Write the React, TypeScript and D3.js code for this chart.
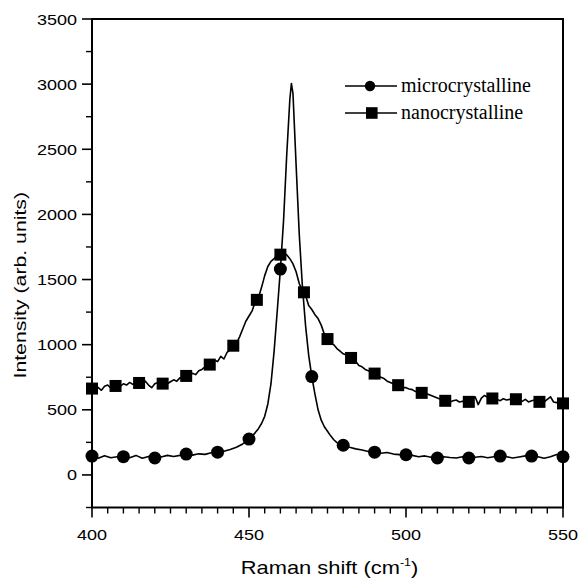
import React from "react";
import * as d3 from "d3";

// ---- data ----
const microShift = [
  400, 402, 404, 406, 408, 410, 412, 414, 416, 418, 420, 422, 424, 426, 428, 430, 432, 434, 436, 438,
  440, 442, 444, 446, 448, 449, 450, 451, 452, 453, 454, 455, 456, 457, 458, 459, 460, 461, 462, 463,
  463.5, 464, 465, 466, 467, 468, 469, 470, 471, 472, 473, 474, 475, 476, 477, 478, 479, 480, 482, 484,
  486, 488, 490, 492, 494, 496, 498, 500, 502, 504, 506, 508, 510, 512, 514, 516, 518, 520, 522, 524,
  526, 528, 530, 532, 534, 536, 538, 540, 542, 544, 546, 548, 550,
];
const microIntensity = [
  150, 128, 148, 132, 140, 140, 132, 150, 128, 142, 132, 138, 150, 142, 150, 160, 152, 162, 158, 170,
  175, 182, 195, 212, 238, 255, 275, 298, 325, 355, 395, 450, 545, 700, 950, 1260, 1580, 1950, 2450, 2880,
  3005, 2930, 2380, 1850, 1450, 1150, 920, 755, 620, 500, 420, 370, 335, 300, 270, 248, 236, 228, 212, 200,
  192, 180, 175, 166, 172, 160, 156, 155, 150, 140, 146, 136, 130, 140, 134, 130, 140, 130, 136, 142,
  132, 140, 145, 140, 130, 138, 146, 145, 140, 128, 140, 156, 140,
];

const nanoShift = d3.range(400, 551, 1);
const nanoIntensity = [
  660, 690, 670, 650, 680, 690, 665, 685, 690, 680,
  700, 690, 710, 695, 710, 705, 700, 720, 690, 670,
  700, 710, 690, 705, 700, 715, 730, 720, 745, 750,
  760, 760, 780, 770, 800, 810, 830, 840, 850, 880,
  870, 910, 890, 940, 960, 990, 1010, 1060, 1120, 1180,
  1220, 1260, 1330, 1360, 1440, 1530, 1600, 1640, 1660, 1690,
  1700, 1700, 1690, 1660, 1620, 1560, 1470, 1410, 1380, 1300,
  1270, 1230, 1200, 1150, 1080, 1040, 1010, 1000, 970, 950,
  930, 920, 900, 880, 870, 840, 830, 810, 800, 790,
  780, 760, 750, 740, 720, 710, 700, 690, 680, 670,
  670, 660, 655, 640, 650, 630, 625, 620, 610, 600,
  590, 580, 570, 575, 560, 570, 575, 560, 565, 560,
  560, 580, 600, 540, 590, 610, 595, 590, 575, 580,
  570, 585, 575, 580, 585, 580, 570, 565, 580, 560,
  570, 575, 560, 555, 560, 580, 600, 560, 555, 550,
  550,
];

const microMarkerShift = [400, 410, 420, 430, 440, 450, 460, 470, 480, 490, 500, 510, 520, 530, 540, 550];
const microMarkerIntensity = [145, 140, 130, 160, 175, 275, 1580, 755, 228, 175, 155, 130, 130, 145, 145, 140];

const nanoMarkerShift = [
  400, 407.5, 415, 422.5, 430, 437.5, 445, 452.5, 460, 467.5, 475, 482.5, 490, 497.5, 505, 512.5, 520,
  527.5, 535, 542.5, 550,
];
const nanoMarkerIntensity = [
  663, 683, 706, 701, 760, 847, 992, 1344, 1691, 1402, 1043, 898, 778, 689, 630, 569, 561, 587, 581, 561, 549,
];

const xTicks = [400, 450, 500, 550];
const yTicks = [0, 500, 1000, 1500, 2000, 2500, 3000, 3500];
const seriesNames = ["microcrystalline", "nanocrystalline"];

// ---- layout ----
const W = 580;
const H = 584;
const left = 92;
const right = 563;
const top = 19;
const bottom = 507.5;
const SANS = "'Liberation Sans', Arial, Helvetica, sans-serif";
const SERIF = "'Liberation Serif', 'Times New Roman', serif";
const SX = 1.2;

export default function App() {
  const x = d3.scaleLinear().domain([400, 550]).range([left, right]);
  const y = d3.scaleLinear().domain([-250, 3500]).range([bottom, top]);

  const line = d3
    .line<[number, number]>()
    .x((d) => x(d[0]))
    .y((d) => y(d[1]));

  const microPath = line(microShift.map((v, i) => [v, microIntensity[i]]) as [number, number][]) || "";
  const nanoPath = line(nanoShift.map((v, i) => [v, nanoIntensity[i]]) as [number, number][]) || "";

  const xMinor = d3.range(400, 551, 5).filter((v) => v % 50 !== 0);
  const yMinor = d3.range(-250, 3501, 250).filter((v) => v % 500 !== 0);

  return (
    <svg
      width={W}
      height={H}
      style={{ position: "absolute", left: 0, top: 0, background: "#fff" }}
    >
      <rect x={0} y={0} width={W} height={H} fill="#fff" />

      {/* series lines */}
      <path d={nanoPath} fill="none" stroke="#000" strokeWidth={1.6} strokeLinejoin="round" />
      <path d={microPath} fill="none" stroke="#000" strokeWidth={1.6} strokeLinejoin="round" />

      {/* markers */}
      {microMarkerShift.map((v, i) => (
        <circle key={"mc" + i} cx={x(v)} cy={y(microMarkerIntensity[i])} r={6.5} fill="#000" />
      ))}
      {nanoMarkerShift.map((v, i) => (
        <rect
          key={"nm" + i}
          x={x(v) - 6}
          y={y(nanoMarkerIntensity[i]) - 6}
          width={12}
          height={12}
          fill="#000"
        />
      ))}

      {/* frame */}
      <rect x={left} y={top} width={right - left} height={bottom - top} fill="none" stroke="#000" strokeWidth={2} />

      {/* y ticks */}
      {yTicks.map((t) => (
        <g key={"yt" + t}>
          <line x1={left - 10} x2={left} y1={y(t)} y2={y(t)} stroke="#000" strokeWidth={1.6} />
          <text
            transform={`translate(${left - 15},${y(t) + 5.5}) scale(${SX},1)`}
            textAnchor="end"
            fontFamily={SANS}
            fontSize={15}
            fill="#000"
          >
            {t}
          </text>
        </g>
      ))}
      {yMinor.map((t) => (
        <line key={"ym" + t} x1={left - 6} x2={left} y1={y(t)} y2={y(t)} stroke="#000" strokeWidth={1.4} />
      ))}

      {/* x ticks */}
      {xTicks.map((t) => (
        <g key={"xt" + t}>
          <line x1={x(t)} x2={x(t)} y1={bottom} y2={bottom + 10} stroke="#000" strokeWidth={1.6} />
          <text
            transform={`translate(${x(t)},${bottom + 32}) scale(${SX},1)`}
            textAnchor="middle"
            fontFamily={SANS}
            fontSize={15}
            fill="#000"
          >
            {t}
          </text>
        </g>
      ))}
      {xMinor.map((t) => (
        <line key={"xm" + t} x1={x(t)} x2={x(t)} y1={bottom} y2={bottom + 6} stroke="#000" strokeWidth={1.4} />
      ))}

      {/* axis titles */}
      <text
        transform={`translate(${(left + right) / 2 + 2},574) scale(${SX + 0.05},1)`}
        textAnchor="middle"
        fontFamily={SANS}
        fontSize={17.5}
        fill="#000"
      >
        Raman shift (cm
        <tspan fontSize={10} dy={-8}>-1</tspan>
        <tspan dy={8}>)</tspan>
      </text>
      <text
        transform={`translate(26,${(top + bottom) / 2 + 22}) rotate(-90) scale(${SX + 0.05},1)`}
        textAnchor="middle"
        fontFamily={SANS}
        fontSize={17}
        fill="#000"
      >
        Intensity (arb. units)
      </text>

      {/* legend */}
      <g>
        <line x1={345} x2={397} y1={86} y2={86} stroke="#000" strokeWidth={1.6} />
        <circle cx={370} cy={86} r={5.2} fill="#000" />
        <text x={401} y={92} fontFamily={SERIF} fontSize={20} fill="#000">
          {seriesNames[0]}
        </text>
        <line x1={345} x2={397} y1={113} y2={113} stroke="#000" strokeWidth={1.6} />
        <rect x={366} y={107.2} width={11.6} height={11.6} fill="#000" />
        <text x={401} y={119} fontFamily={SERIF} fontSize={20} fill="#000">
          {seriesNames[1]}
        </text>
      </g>
    </svg>
  );
}
